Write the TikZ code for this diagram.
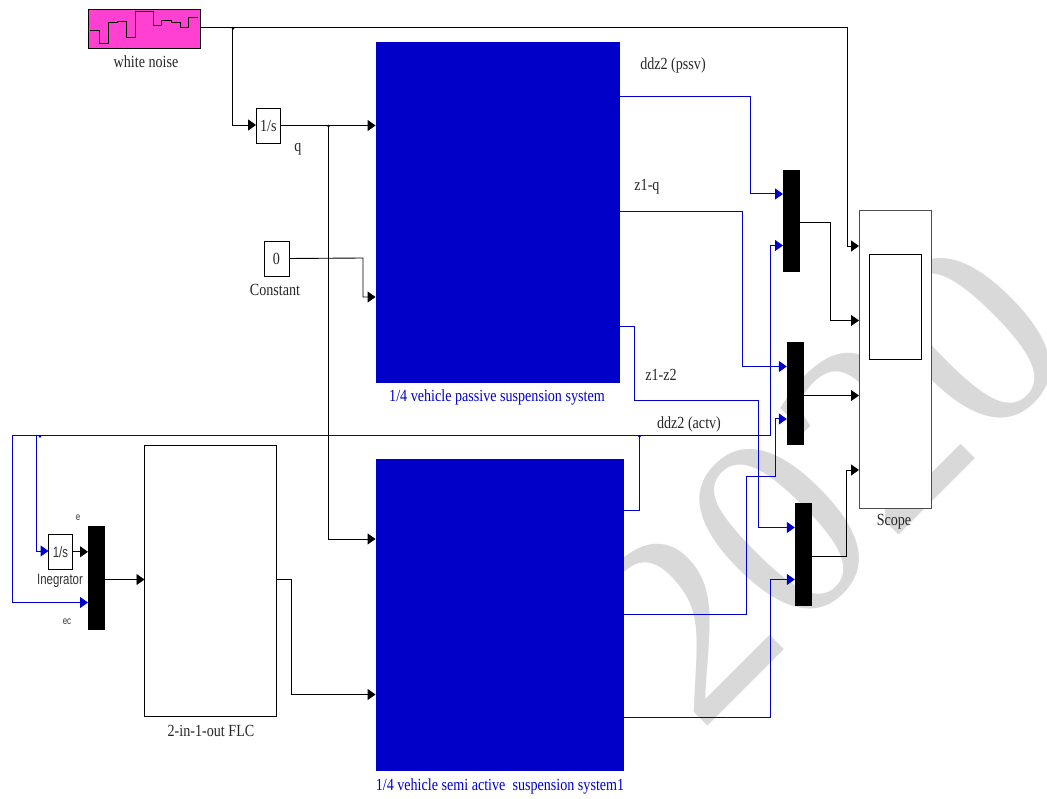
\documentclass[tikz,border=0pt]{standalone}
\usepackage{fontspec}
\setmainfont[FakeStretch=0.83]{Liberation Serif}
\newfontfamily\mwsans[FakeStretch=0.76]{Liberation Sans}
\newfontfamily\wmfont{Liberation Serif}
\usetikzlibrary{arrows.meta}
\definecolor{mwblue}{HTML}{0000C8}
\definecolor{mwline}{HTML}{0000CC}
\definecolor{mwpink}{HTML}{FF40D0}
\tikzset{
  box/.style={draw=black,fill=white,line width=0.9pt,inner sep=0pt,outer sep=0pt},
  solid block/.style={fill=mwblue,draw=none,inner sep=0pt,outer sep=0pt},
  muxbar/.style={fill=black,draw=none,inner sep=0pt,outer sep=0pt},
  lab/.style={font=\fontsize{17}{17}\selectfont,text=black!85,inner sep=0pt},
  bluelab/.style={font=\fontsize{17}{17}\selectfont,text=mwline,inner sep=0pt},
  sanslab/.style={font=\mwsans\fontsize{15}{15}\selectfont,text=black!80,inner sep=0pt},
  tiny lab/.style={font=\mwsans\fontsize{10.5}{10.5}\selectfont,text=black!80,inner sep=0pt},
  blk/.style={draw=black,line width=0.9pt,-{Triangle[length=8pt,width=11pt]}},
  blu/.style={draw=mwline,line width=1pt,-{Triangle[length=8pt,width=11pt]}},
  jd/.style={circle,inner sep=0pt,minimum size=2.6pt}
}
\begin{document}
\begin{tikzpicture}[x=1pt,y=-1pt]
\useasboundingbox (0,0) rectangle (1047,799);
% watermark
\begin{scope}
\clip (0,0) rectangle (1047,799);
\node[rotate=45,inner sep=0pt,text=black!15,font=\wmfont\fontsize{270}{270}\selectfont] (wm) at (827.7,481) {2020};
\end{scope}
% blocks
\node[box,fill=mwpink,minimum width=112pt,minimum height=39pt] (noise) at (144.5,28.5) {};
\draw[line width=0.9pt] (90,30)--(99.3,30)--(99.3,43.3)--(108.3,43.3)--(108.3,22.7)--(117.3,22.7)--(117.3,21.7)--(126.7,21.7)--(126.7,37.7)--(135.3,37.7)--(135.3,11.3)--(153.3,11.3)--(153.3,25)--(161.7,25)--(161.7,20.7)--(171,20.7)--(171,22.7)--(180,22.7)--(180,27.3)--(188.7,27.3)--(188.7,17.3)--(197.7,17.3);
\node[box,minimum width=24.5pt,minimum height=34.5pt,lab] (int1) at (268.3,126.2) {1/s};
\node[box,minimum width=25pt,minimum height=35pt,lab] (const) at (276.5,258.5) {0};
\node[solid block,minimum width=244.5pt,minimum height=341pt] (pas) at (497.8,212.5) {};
\node[solid block,minimum width=248.5pt,minimum height=312.5pt] (semi) at (499.8,614.8) {};
\node[box,minimum width=132pt,minimum height=271pt] (flc) at (210.5,580.5) {};
\node[box,minimum width=24pt,minimum height=34.5pt,font=\mwsans\fontsize{15}{15}\selectfont,text=black!80] (int2) at (60.5,551.8) {1/s};
\node[muxbar,minimum width=17pt,minimum height=103.5pt] (mux0) at (96.5,577.8) {};
\node[muxbar,minimum width=17pt,minimum height=102pt] (mux1) at (791.5,221) {};
\node[muxbar,minimum width=17pt,minimum height=103pt] (mux2) at (795.3,393.5) {};
\node[muxbar,minimum width=17pt,minimum height=103pt] (mux3) at (803.3,554.5) {};
\node[box,draw=black!70,minimum width=72pt,minimum height=298pt] (scope) at (895,359) {};
\node[box,minimum width=51.5pt,minimum height=105pt] (screen) at (895.3,306.5) {};
% labels
\node[lab] (l1) at (146,61.5) {white noise};
\node[lab] (l2) at (298,149) {q};
\node[lab] (l3) at (275,290) {Constant};
\node[lab] (l4) at (673,65) {ddz2 (pssv)};
\node[lab] (l5) at (647,187) {z1-q};
\node[lab] (l6) at (661,375) {z1-z2};
\node[lab] (l7) at (689,424) {ddz2 (actv)};
\node[bluelab] (l8) at (497,397) {1/4 vehicle passive suspension system};
\node[bluelab] (l9) at (500,786) {1/4 vehicle semi active\ \ suspension system1};
\node[lab] (l10) at (211,731) {2-in-1-out FLC};
\node[lab] (l11) at (894,522) {Scope};
\node[sanslab] (l12) at (60,581) {Inegrator};
\node[tiny lab] (l13) at (78,518) {e};
\node[tiny lab] (l14) at (67,622) {ec};
% black connectors
\coordinate (j1) at (232,27.5);
\coordinate (j2) at (328,125.5);
\draw[blk] (noise.east |- j1) -- (847,27.5) -- (847,246) -- (scope.west |- 0,246);
\draw[blk] (j1) -- (232,125) -- (int1.west |- 0,125);
\draw[blk] (int1.east |- j2) -- (pas.west |- j2);
\draw[blk] (j2) -- (328,539) -- (semi.west |- 0,539);
\draw[blk] (const.east) -- (363,258) -- (363,297) -- (pas.west |- 0,297);
\draw[blk] (int2.east) -- (mux0.west |- int2.east);
\draw[blk] (mux0.east |- 0,579.5) -- (flc.west |- 0,579.5);
\draw[blk] (flc.east |- 0,579.5) -- (291.5,579.5) -- (291.5,694.5) -- (semi.west |- 0,694.5);
\draw[blk] (mux1.east |- 0,222.5) -- (830,222.5) -- (830,320.5) -- (scope.west |- 0,320.5);
\draw[blk] (mux2.east |- 0,395.5) -- (scope.west |- 0,395.5);
\draw[blk] (mux3.east |- 0,556) -- (846.5,556) -- (846.5,470) -- (scope.west |- 0,470);
% blue connectors
\coordinate (j3) at (639.5,435.5);
\coordinate (j4) at (36,435.5);
\draw[blu] (pas.east |- 0,96.5) -- (750,96.5) -- (750,194) -- (mux1.west |- 0,194);
\draw[blu] (pas.east |- 0,211.5) -- (742.5,211.5) -- (742.5,366.5) -- (mux2.west |- 0,366.5);
\draw[blu] (pas.east |- 0,326.5) -- (634.5,326.5) -- (634.5,401) -- (758,401) -- (758,527.5) -- (mux3.west |- 0,527.5);
\draw[draw=mwline,line width=1pt] (semi.east |- 0,510.5) -- (639.5,510.5) -- (j3);
\draw[blu] (j3) -- (770.5,435.5) -- (770.5,245.5) -- (mux1.west |- 0,245.5);
\draw[blu] (j3) -- (12,435.5) -- (12,602.5) -- (mux0.west |- 0,602.5);
\draw[blu] (j4) -- (36,551) -- (int2.west |- 0,551);
\draw[blu] (semi.east |- 0,614) -- (746.5,614) -- (746.5,476) -- (775,476) -- (775,419) -- (mux2.west |- 0,419);
\draw[blu] (semi.east |- 0,717) -- (770.5,717) -- (770.5,579.5) -- (mux3.west |- 0,579.5);
% junction dots
\node[jd,fill=black] (d1) at (233,28.5) {};
\node[jd,fill=black] (d2) at (328.5,126) {};
\node[jd,fill=mwline] (d3) at (639.5,436.5) {};
\node[jd,fill=mwline] (d4) at (40,436.5) {};
\end{tikzpicture}
\end{document}
